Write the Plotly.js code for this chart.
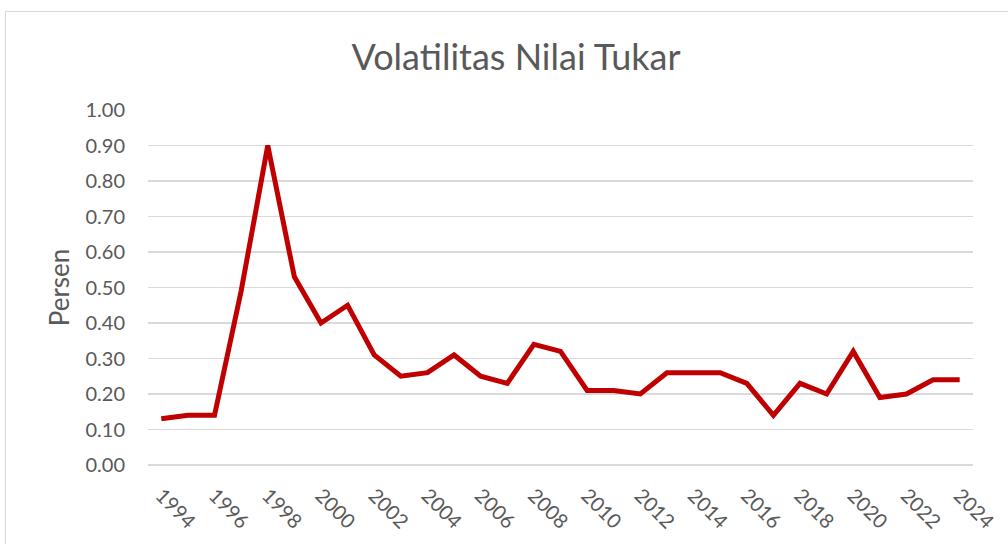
<!DOCTYPE html>
<html>
<head>
<meta charset="utf-8">
<script src="https://cdn.plot.ly/plotly-3.0.1.min.js"></script>
<style>
  html, body { margin: 0; padding: 0; background: #fff; }
  #wrap { position: relative; width: 1008px; height: 544px; overflow: hidden; }
  #chart { position: absolute; left: 0; top: 0; width: 1008px; height: 544px; }
  #frame { position: absolute; left: 5px; top: 11px; width: 1100px; height: 600px;
           border: 1px solid #d9d9d9; pointer-events: none; box-sizing: border-box; }
</style>
</head>
<body>
<div id="wrap">
  <div id="chart"></div>
  <div id="frame"></div>
</div>
<script>
const years = [1994,1995,1996,1997,1998,1999,2000,2001,2002,2003,2004,2005,2006,2007,2008,2009,
               2010,2011,2012,2013,2014,2015,2016,2017,2018,2019,2020,2021,2022,2023,2024];
const volatility = [0.13,0.14,0.14,0.49,0.90,0.53,0.40,0.45,0.31,0.25,0.26,0.31,0.25,0.23,0.34,0.32,
                    0.21,0.21,0.20,0.26,0.26,0.26,0.23,0.14,0.23,0.20,0.32,0.19,0.20,0.24,0.24];
const xTickVals = [1994,1996,1998,2000,2002,2004,2006,2008,2010,2012,2014,2016,2018,2020,2022,2024];
const xTickText = ["1994","1996","1998","2000","2002","2004","2006","2008","2010","2012","2014","2016","2018","2020","2022","2024"];
const yTickVals = [0,0.1,0.2,0.3,0.4,0.5,0.6,0.7,0.8,0.9,1.0];
const yTickText = yTickVals.map(v => v.toFixed(2));

const trace = {
  x: years, y: volatility, type: 'scatter', mode: 'lines',
  line: { color: '#c00000', width: 5, shape: 'linear' },
  hoverinfo: 'x+y'
};

const layout = {
  width: 1008, height: 544,
  margin: { l: 148, r: 35, t: 110, b: 79 },
  paper_bgcolor: 'rgba(0,0,0,0)', plot_bgcolor: '#fff',
  font: { family: 'Lato, "Open Sans", sans-serif', color: '#595959' },
  title: { text: 'Volatilitas Nilai Tukar', font: { size: 36, color: '#595959', family: 'Lato, sans-serif' },
           x: 516/1008, xanchor: 'center', xref: 'container', y: 1 - 57/544, yanchor: 'middle', yref: 'container' },
  showlegend: false,
  xaxis: {
    type: 'linear', range: [1993.5, 2024.5],
    tickvals: xTickVals, ticktext: xTickText, tickangle: 45,
    showgrid: false, zeroline: false, showline: false, ticks: '',
    ticklabelstandoff: 14,
    tickfont: { size: 20, color: '#595959' }
  },
  yaxis: {
    range: [0, 1.0], tickvals: yTickVals, ticktext: yTickText,
    showgrid: true, gridcolor: '#d9d9d9', gridwidth: 1.5,
    zeroline: true, zerolinecolor: '#d9d9d9', zerolinewidth: 1.5,
    showline: false, ticks: '', ticklabelstandoff: 22,
    tickfont: { size: 20, color: '#595959' },
    title: { text: 'Persen', font: { size: 26, color: '#595959' }, standoff: 8 }
  }
};

Plotly.newPlot('chart', [trace], layout, { displayModeBar: false, staticPlot: true });
</script>
</body>
</html>
